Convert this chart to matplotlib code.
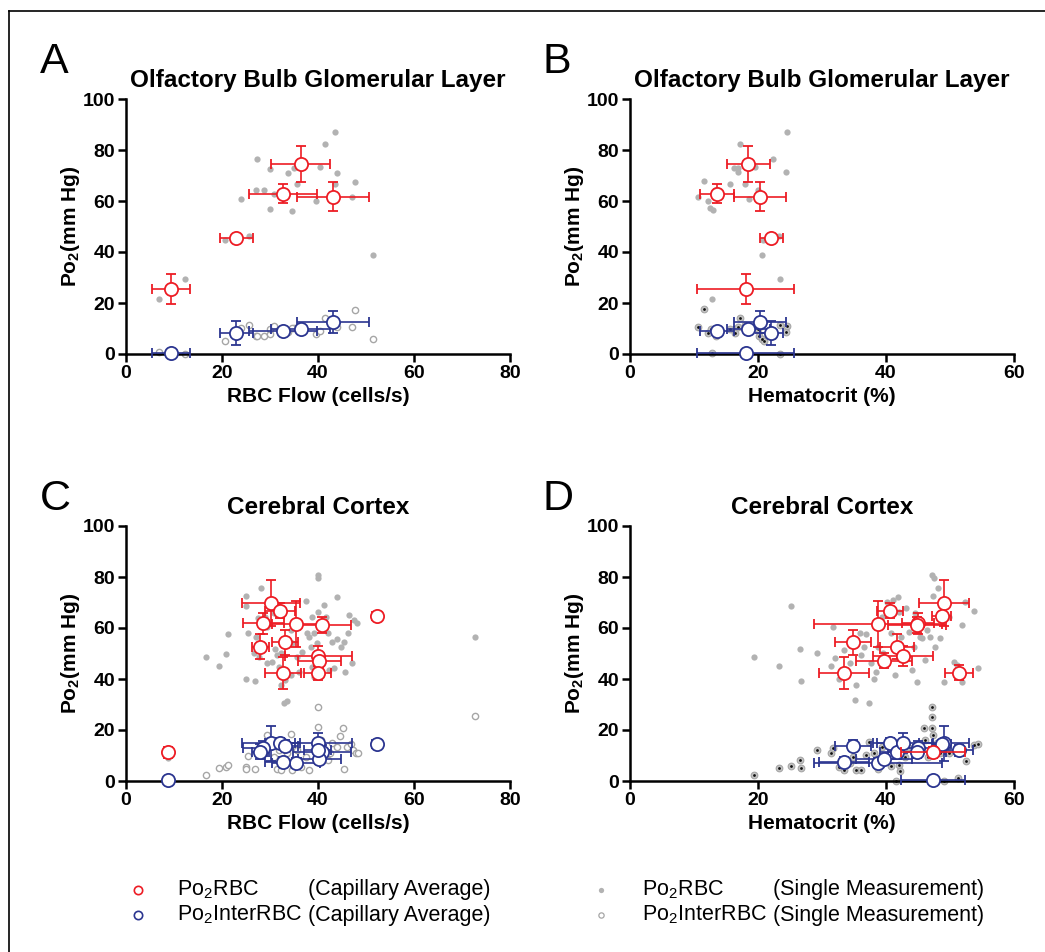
import matplotlib
matplotlib.use("Agg")
import matplotlib.pyplot as plt
from matplotlib.lines import Line2D

plt.rcParams['font.family'] = ['Liberation Sans', 'DejaVu Sans']
plt.rcParams['mathtext.fontset'] = 'custom'
plt.rcParams['mathtext.rm'] = 'Liberation Sans'
plt.rcParams['mathtext.bf'] = 'Liberation Sans:bold'
plt.rcParams['mathtext.it'] = 'Liberation Sans:italic'

RED = '#ed1c24'
BLUE = '#2b3590'
GRAY = '#b2b2b2'
GRAY_OPEN = '#a6a6a6'

# ---- olfactory bulb, capillary averages ----
ob_flow = [9.4, 23.0, 32.7, 36.4, 43.2]
ob_flow_err = [3.9, 3.4, 7.1, 6.2, 7.5]
ob_hct = [18.1, 22.1, 13.6, 18.5, 20.3]
ob_hct_err = [7.6, 1.8, 2.7, 3.4, 4.0]
ob_rbc = [25.5, 45.4, 62.9, 74.5, 61.7]
ob_rbc_err = [5.7, 0.0, 3.6, 6.9, 5.7]
ob_inter = [0.4, 8.2, 9.0, 9.8, 12.5]
ob_inter_err = [0.0, 4.6, 1.0, 1.0, 4.3]

# ---- olfactory bulb, single measurements (panel A) ----
a_flow = [6.8, 12.2, 20.7, 25.6, 23.9, 27.1, 28.7, 27.3, 30.0, 30.0, 30.9, 33.8,
          35.0, 35.7, 34.5, 39.5, 40.5, 41.4, 43.5, 43.5, 44.0, 47.1, 47.8, 51.4]
a_rbc = [21.5, 29.5, 44.8, 46.1, 60.7, 64.2, 64.2, 76.5, 72.7, 56.9, 62.7, 71.1,
         73.0, 66.7, 56.1, 60.1, 73.5, 82.4, 87.1, 66.7, 71.1, 61.5, 67.6, 39.0]
a_inter = [0.7, 0.0, 5.0, 11.4, 10.1, 6.9, 6.9, 6.9, 7.8, 9.7, 10.8, 8.6,
           10.3, 10.1, 10.1, 7.8, 8.9, 14.2, 11.4, 11.0, 10.6, 10.4, 17.4, 5.7]

# ---- olfactory bulb, single measurements (panel B) ----
b_rbc_hct = [10.7, 11.5, 12.2, 12.5, 12.9, 13.3, 15.7, 16.3, 16.8, 16.9, 17.2, 17.9,
             18.6, 19.6, 20.0, 20.2, 20.6, 20.8, 23.3, 22.3, 23.5, 24.4, 24.5, 12.8]
b_rbc_po2 = [61.6, 67.8, 60.1, 57.2, 56.3, 64.4, 66.7, 72.8, 73.1, 71.4, 82.4, 66.7,
             60.8, 73.2, 64.4, 63.1, 39.0, 44.8, 46.1, 76.6, 29.5, 71.3, 87.2, 21.5]
b_inter_hct = [11.5, 10.7, 12.2, 12.7, 13.4, 12.8, 15.7, 16.4, 16.9, 17.2, 17.9,
               18.6, 19.7, 20.0, 20.2, 20.6, 20.9, 22.4, 23.5, 24.4, 24.5, 23.5]
b_inter_po2 = [17.5, 10.4, 8.1, 9.9, 6.9, 0.5, 9.9, 8.1, 10.4, 14.2, 11.5,
               9.9, 11.5, 9.9, 6.9, 5.9, 5.0, 6.9, 11.5, 8.5, 10.8, 0.0]

# ---- cerebral cortex, capillary averages ----
cx_flow = [8.7, 30.2, 32.1, 28.6, 35.5, 40.8, 28.0, 33.2, 40.1, 40.3, 32.7, 39.9, 52.3]
cx_flow_err = [0.5, 6.0, 3.1, 4.3, 5.0, 6.0, 1.7, 2.7, 7.0, 4.5, 3.7, 2.8, 1.0]
cx_hct = [47.4, 49.0, 40.6, 45.0, 38.7, 44.8, 41.7, 34.9, 42.6, 39.7, 33.5, 51.4, 48.7]
cx_hct_err = [5.0, 3.9, 2.0, 2.5, 10.0, 4.5, 2.6, 2.8, 4.7, 4.4, 3.9, 2.2, 1.5]
cx_rbc = [11.2, 69.7, 66.8, 61.8, 61.6, 61.2, 52.6, 54.5, 49.0, 47.2, 42.5, 42.5, 64.7]
cx_rbc_err = [2.2, 9.0, 3.0, 4.2, 9.0, 3.0, 4.9, 4.9, 4.0, 3.0, 6.3, 3.0, 1.5]
cx_inter = [0.4, 14.8, 14.8, 12.8, 7.2, 11.5, 11.5, 13.9, 14.8, 8.5, 7.3, 12.0, 14.5]
cx_inter_err = [0.5, 6.8, 2.0, 3.0, 2.0, 2.5, 3.0, 2.0, 4.0, 2.0, 2.0, 2.0, 1.5]

# ---- cerebral cortex, single measurements (panel C) ----
c_rbc_flow = [16.7, 19.4, 20.8, 21.3, 24.9, 25.0, 28.1, 24.9, 26.8, 25.4, 27.5, 27.0,
              29.4, 30.8, 28.9, 26.7, 27.7, 29.4, 30.5, 31.0, 31.5, 31.8, 32.2, 34.3,
              33.2, 32.3, 33.0, 33.6, 34.3, 34.6, 35.7, 36.0, 36.7, 37.4, 37.8, 38.1,
              38.5, 38.8, 39.2, 39.5, 39.7, 40.0, 40.0, 39.9, 38.8, 39.2, 41.2, 41.6,
              42.0, 42.3, 43.0, 43.3, 43.9, 44.0, 44.7, 45.4, 45.6, 46.3, 46.5, 47.0,
              47.5, 48.2, 72.8, 8.7]
c_rbc_po2 = [48.5, 45.1, 49.8, 57.5, 72.5, 68.6, 75.6, 40.0, 39.2, 58.2, 64.1, 56.6,
             60.5, 65.8, 64.4, 50.1, 48.8, 46.1, 46.8, 51.6, 49.4, 44.8, 50.1, 41.6,
             39.6, 37.6, 30.7, 31.5, 59.2, 54.0, 48.8, 42.9, 50.7, 70.6, 57.9, 56.6,
             52.7, 64.4, 57.9, 48.1, 54.0, 80.8, 79.5, 66.4, 44.8, 40.9, 69.0, 64.4,
             57.9, 43.5, 54.6, 44.2, 72.3, 55.6, 52.7, 54.6, 42.9, 57.9, 65.1, 46.4,
             63.1, 61.8, 56.5, 8.9]
c_inter_flow = [16.7, 19.4, 20.8, 21.3, 24.9, 25.0, 26.8, 25.4, 28.0, 29.4, 30.1, 30.8,
                31.5, 31.8, 32.2, 34.3, 33.6, 34.6, 35.7, 36.4, 37.4, 38.1, 39.2, 40.0,
                40.0, 40.6, 41.2, 42.0, 42.6, 43.0, 43.9, 44.6, 45.3, 45.4, 46.1, 46.8,
                47.2, 47.9, 48.4, 72.8]
c_inter_po2 = [2.2, 5.0, 5.4, 6.1, 5.6, 4.6, 4.6, 9.8, 12.8, 18.0, 14.8, 9.5,
               4.6, 12.2, 4.3, 18.3, 10.8, 4.3, 12.2, 5.6, 9.5, 4.3, 12.2, 28.9,
               21.0, 16.1, 10.2, 8.2, 10.8, 14.8, 13.5, 17.6, 20.8, 4.6, 13.5, 14.5,
               12.2, 10.8, 10.8, 25.4]

# ---- cerebral cortex, single measurements (panel D) ----
d_rbc_hct = [19.4, 23.3, 25.1, 26.6, 26.7, 29.2, 31.7, 32.0, 31.4, 32.7, 33.5, 34.3,
             34.8, 35.1, 35.3, 35.9, 36.1, 36.6, 36.9, 37.4, 37.7, 38.2, 38.5, 38.7,
             39.3, 39.5, 40.1, 40.3, 40.8, 41.1, 41.4, 41.8, 42.0, 42.4, 42.9, 43.2,
             43.6, 44.0, 44.3, 44.5, 44.9, 45.3, 45.7, 46.1, 46.4, 46.9, 47.2, 47.5,
             47.4, 47.7, 48.1, 48.2, 48.5, 49.0, 49.8, 50.6, 51.1, 51.8, 51.9, 52.4,
             53.7, 54.3]
d_rbc_po2 = [48.5, 45.1, 68.6, 51.6, 39.2, 50.1, 60.5, 48.1, 45.1, 39.9, 51.4, 46.1,
             55.9, 31.8, 37.6, 57.9, 49.4, 52.7, 57.6, 30.5, 46.1, 39.9, 42.9, 52.7,
             64.4, 50.1, 70.3, 47.5, 57.9, 71.0, 41.6, 72.3, 66.4, 56.6, 50.1, 67.7,
             58.6, 43.5, 52.7, 66.0, 39.0, 56.6, 55.9, 47.5, 59.2, 56.6, 80.8, 79.5,
             72.5, 52.7, 64.4, 75.6, 55.9, 39.0, 64.4, 46.8, 45.5, 61.2, 39.0, 70.3,
             66.7, 44.2]
d_inter_hct = [19.4, 23.3, 25.1, 26.7, 26.6, 29.2, 31.4, 31.7, 32.7, 33.5, 34.3, 34.9,
               35.3, 36.1, 36.9, 37.4, 38.2, 38.7, 39.3, 40.8, 41.6, 42.0, 42.2, 42.9,
               43.5, 44.3, 45.0, 46.0, 46.1, 46.6, 47.2, 47.2, 47.2, 47.4, 48.0, 48.5,
               49.1, 51.3, 49.8, 52.5, 53.7, 54.4]
d_inter_po2 = [2.4, 5.0, 5.9, 5.0, 8.2, 12.2, 10.8, 12.8, 5.6, 4.3, 6.9, 9.5,
               4.3, 4.3, 10.2, 15.4, 10.8, 4.6, 13.5, 5.9, 0.0, 6.3, 4.1, 9.5,
               13.5, 10.8, 12.2, 20.9, 16.1, 9.5, 29.2, 25.2, 20.9, 18.0, 14.8, 10.8,
               0.0, 1.0, 10.8, 8.0, 14.1, 14.5]

W, H = 1045, 952
fig = plt.figure(figsize=(W / 100, H / 100), dpi=100)


def make_axes(left_px, top_px, xmax, xlabel, title):
    ax = fig.add_axes([left_px / W, 1 - (top_px + 255) / H, 384 / W, 255 / H])
    ax.set_xlim(0, xmax)
    ax.set_ylim(0, 100)
    ax.set_xticks(range(0, xmax + 1, 20))
    ax.set_yticks(range(0, 101, 20))
    for s in ['top', 'right']:
        ax.spines[s].set_visible(False)
    for s in ['left', 'bottom']:
        ax.spines[s].set_linewidth(1.8)
    ax.tick_params(direction='out', length=6, width=1.8, labelsize=14, pad=2)
    for lab in ax.get_xticklabels() + ax.get_yticklabels():
        lab.set_fontweight('bold')
    ax.set_xlabel(xlabel, fontsize=15, fontweight='bold')
    ax.set_ylabel(r'Po$_\mathbf{2}$(mm Hg)', fontsize=15, fontweight='bold')
    ax.xaxis.set_label_coords(0.5, -0.13)
    ax.yaxis.set_label_coords(-0.115, 0.5)
    ax.set_title(title, fontsize=17.5, fontweight='bold', pad=9)
    return ax


def singles(ax, x_rbc, y_rbc, x_int, y_int, dotted=False):
    ax.plot(x_rbc, y_rbc, 'o', color=GRAY, ms=4.5, mew=0, clip_on=False, zorder=2)
    if dotted:
        ax.plot(x_int, y_int, 'o', mfc='#c4c4c4', mec=GRAY_OPEN, ms=4.8, mew=0.8,
                clip_on=False, zorder=2)
        ax.plot(x_int, y_int, 'o', color='#111111', ms=2.0, mew=0,
                clip_on=False, zorder=2)
    else:
        ax.plot(x_int, y_int, 'o', mfc='white', mec=GRAY_OPEN, ms=4.5, mew=1.0,
                clip_on=False, zorder=2)


def averages(ax, x, xerr, y, yerr, color, z):
    eb = ax.errorbar(x, y, xerr=xerr, yerr=yerr, fmt='o', mfc='white', mec=color,
                     ms=9.5, mew=1.3, ecolor=color, elinewidth=1.2, capsize=3.5,
                     capthick=1.2, zorder=z)
    for art in eb.get_children():
        art.set_clip_on(False)


axA = make_axes(126, 99, 80, 'RBC Flow (cells/s)', 'Olfactory Bulb Glomerular Layer')
singles(axA, a_flow, a_rbc, a_flow, a_inter)
averages(axA, ob_flow, ob_flow_err, ob_inter, ob_inter_err, BLUE, 4)
averages(axA, ob_flow, ob_flow_err, ob_rbc, ob_rbc_err, RED, 5)

axB = make_axes(630, 99, 60, 'Hematocrit (%)', 'Olfactory Bulb Glomerular Layer')
singles(axB, b_rbc_hct, b_rbc_po2, b_inter_hct, b_inter_po2, dotted=True)
averages(axB, ob_hct, ob_hct_err, ob_inter, ob_inter_err, BLUE, 4)
averages(axB, ob_hct, ob_hct_err, ob_rbc, ob_rbc_err, RED, 5)

axC = make_axes(126, 526, 80, 'RBC Flow (cells/s)', 'Cerebral Cortex')
singles(axC, c_rbc_flow, c_rbc_po2, c_inter_flow, c_inter_po2)
averages(axC, cx_flow, cx_flow_err, cx_inter, cx_inter_err, BLUE, 4)
averages(axC, cx_flow, cx_flow_err, cx_rbc, cx_rbc_err, RED, 5)

axD = make_axes(630, 526, 60, 'Hematocrit (%)', 'Cerebral Cortex')
singles(axD, d_rbc_hct, d_rbc_po2, d_inter_hct, d_inter_po2, dotted=True)
averages(axD, cx_hct, cx_hct_err, cx_inter, cx_inter_err, BLUE, 4)
averages(axD, cx_hct, cx_hct_err, cx_rbc, cx_rbc_err, RED, 5)

# panel letters
for letter, px, py in [('A', 40, 73), ('B', 543, 73), ('C', 40, 510), ('D', 543, 510)]:
    fig.text(px / W, 1 - py / H, letter, fontsize=31, va='baseline', ha='left')

# frame (top and left edges)
fig.add_artist(Line2D([9 / W, 9 / W], [0, 1 - 11 / H], transform=fig.transFigure,
                      color='black', lw=1.2))
fig.add_artist(Line2D([9 / W, 1], [1 - 11 / H, 1 - 11 / H], transform=fig.transFigure,
                      color='black', lw=1.2))


# legend
def legend_row(mx, tx1, tx2, py, name, kind, style):
    fy = 1 - py / H
    fig.add_artist(Line2D([mx / W], [fy], transform=fig.transFigure, **style))
    fig.text(tx1 / W, fy, name, fontsize=15.5, va='center', ha='left')
    fig.text(tx2 / W, fy, kind, fontsize=15.5, va='center', ha='left')


legend_row(138, 177, 308, 890, r'Po$_2$RBC', '(Capillary Average)',
           dict(marker='o', mfc='white', mec=RED, ms=6, mew=1.2, ls='none'))
legend_row(138, 177, 308, 915, r'Po$_2$InterRBC', '(Capillary Average)',
           dict(marker='o', mfc='white', mec=BLUE, ms=6, mew=1.2, ls='none'))
legend_row(601, 642, 773, 890, r'Po$_2$RBC', '(Single Measurement)',
           dict(marker='o', color=GRAY, ms=3.8, mew=0, ls='none'))
legend_row(601, 642, 773, 915, r'Po$_2$InterRBC', '(Single Measurement)',
           dict(marker='o', mfc='white', mec=GRAY_OPEN, ms=3.8, mew=0.9, ls='none'))

fig.savefig('out.png', dpi=100)
